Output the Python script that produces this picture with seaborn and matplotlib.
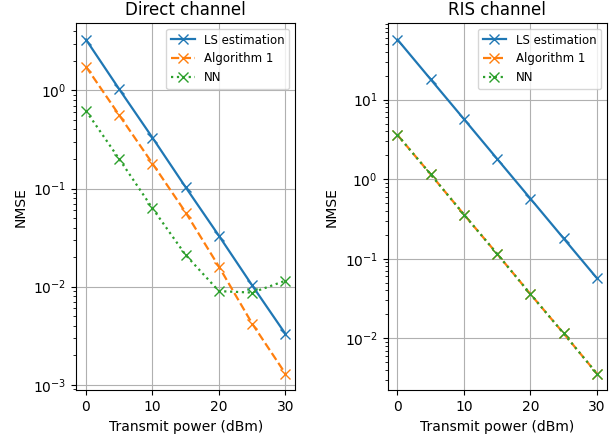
import matplotlib
matplotlib.use("Agg")
import matplotlib.pyplot as plt
import pandas as pd
import seaborn as sns

# transmit power points (dBm)
power_dbm = [0, 5, 10, 15, 20, 25, 30]

# direct channel NMSE
direct_ls = [3.3, 1.03, 0.33, 0.103, 0.033, 0.0103, 0.0033]
direct_alg1 = [1.75, 0.56, 0.18, 0.057, 0.016, 0.0042, 0.0013]
direct_nn = [0.62, 0.2, 0.063, 0.021, 0.009, 0.0087, 0.0115]

# RIS channel NMSE
ris_ls = [57, 18, 5.7, 1.8, 0.57, 0.18, 0.057]
ris_alg1 = [3.6, 1.15, 0.36, 0.115, 0.036, 0.0115, 0.0036]
ris_nn = [3.6, 1.15, 0.36, 0.115, 0.036, 0.0115, 0.0036]

method_names = ["LS estimation", "Algorithm 1", "NN"]
method_colors = ["#1f77b4", "#ff7f0e", "#2ca02c"]
method_styles = ["-", "--", ":"]


def draw_panel(ax, series, title):
    for name, vals, color, ls in zip(method_names, series, method_colors, method_styles):
        df = pd.DataFrame({"power": power_dbm, "nmse": vals})
        sns.lineplot(data=df, x="power", y="nmse", ax=ax, color=color,
                     linestyle=ls, marker="x", markersize=7, markeredgewidth=1.0,
                     markeredgecolor=color, markerfacecolor=color,
                     linewidth=1.6, label=name)
    ax.set_yscale("log")
    ax.set_title(title, fontsize=12)
    ax.set_xlabel("Transmit power (dBm)")
    ax.set_ylabel("NMSE")
    ax.set_xticks([0, 10, 20, 30])
    ax.grid(True, which="major", color="#b0b0b0", linewidth=0.8)
    ax.legend(loc="upper right", fontsize=8.5)


fig, (ax1, ax2) = plt.subplots(1, 2, figsize=(6.13, 4.4), dpi=100)
draw_panel(ax1, [direct_ls, direct_alg1, direct_nn], "Direct channel")
draw_panel(ax2, [ris_ls, ris_alg1, ris_nn], "RIS channel")

plt.subplots_adjust(left=0.124, right=0.99, top=0.948, bottom=0.113, wspace=0.42)
plt.savefig("out.png", dpi=100)
plt.close()
